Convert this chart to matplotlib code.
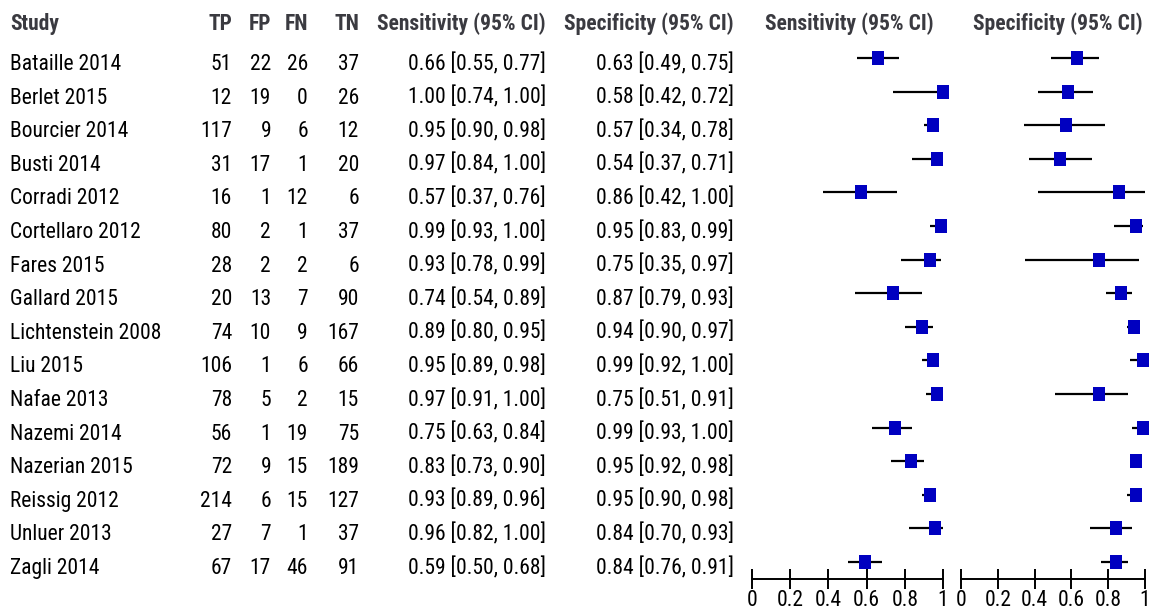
import matplotlib
matplotlib.use('Agg')
import matplotlib.pyplot as plt
import matplotlib.transforms as mtransforms
from matplotlib import font_manager as fm
from matplotlib.path import Path
import numpy as np

# Data
studies = ['Bataille 2014', 'Berlet 2015', 'Bourcier 2014', 'Busti 2014', 'Corradi 2012',
           'Cortellaro 2012', 'Fares 2015', 'Gallard 2015', 'Lichtenstein 2008', 'Liu 2015',
           'Nafae 2013', 'Nazemi 2014', 'Nazerian 2015', 'Reissig 2012', 'Unluer 2013', 'Zagli 2014']
tp = [51, 12, 117, 31, 16, 80, 28, 20, 74, 106, 78, 56, 72, 214, 27, 67]
fp = [22, 19, 9, 17, 1, 2, 2, 13, 10, 1, 5, 1, 9, 6, 7, 17]
fn = [26, 0, 6, 1, 12, 1, 2, 7, 9, 6, 2, 19, 15, 15, 1, 46]
tn = [37, 26, 12, 20, 6, 37, 6, 90, 167, 66, 15, 75, 189, 127, 37, 91]

sens = [0.66, 1.00, 0.95, 0.97, 0.57, 0.99, 0.93, 0.74, 0.89, 0.95, 0.97, 0.75, 0.83, 0.93, 0.96, 0.59]
sens_lo = [0.55, 0.74, 0.90, 0.84, 0.37, 0.93, 0.78, 0.54, 0.80, 0.89, 0.91, 0.63, 0.73, 0.89, 0.82, 0.50]
sens_hi = [0.77, 1.00, 0.98, 1.00, 0.76, 1.00, 0.99, 0.89, 0.95, 0.98, 1.00, 0.84, 0.90, 0.96, 1.00, 0.68]

spec = [0.63, 0.58, 0.57, 0.54, 0.86, 0.95, 0.75, 0.87, 0.94, 0.99, 0.75, 0.99, 0.95, 0.95, 0.84, 0.84]
spec_lo = [0.49, 0.42, 0.34, 0.37, 0.42, 0.83, 0.35, 0.79, 0.90, 0.92, 0.51, 0.93, 0.92, 0.90, 0.70, 0.76]
spec_hi = [0.75, 0.72, 0.78, 0.71, 1.00, 0.99, 0.97, 0.93, 0.97, 1.00, 0.91, 1.00, 0.98, 0.98, 0.93, 0.91]

ticks = [0, 0.2, 0.4, 0.6, 0.8, 1]
tick_labels = ['0', '0.2', '0.4', '0.6', '0.8', '1']

# look for a narrow font, the original uses Arial Narrow
names = {f.name for f in fm.fontManager.ttflist}
narrow = None
for cand in ['Liberation Sans Narrow', 'Arial Narrow', 'Roboto Condensed', 'Open Sans Condensed',
             'Noto Sans Condensed', 'DejaVu Sans Condensed']:
    if cand in names:
        narrow = cand
        break

if narrow is not None:
    fp_body = fm.FontProperties(family=narrow, size=15.5)
    fp_bold = fm.FontProperties(family=narrow, size=15.5, weight='bold')
else:
    fp_body = fp_bold = None
    for fam in ['Noto Sans', 'Open Sans', 'Roboto']:
        p = fm.findfont(fm.FontProperties(family=fam, stretch='condensed'), fallback_to_default=False)
        pb = fm.findfont(fm.FontProperties(family=fam, stretch='condensed', weight='bold'),
                         fallback_to_default=False)
        if 'ondensed' in p and 'ondensed' in pb:
            fp_body = fm.FontProperties(fname=p, size=14.5)
            fp_bold = fm.FontProperties(fname=pb, size=14.5)
            break
    if fp_body is None:
        fp_body = fm.FontProperties(family='Liberation Sans', size=14)
        fp_bold = fm.FontProperties(family='Liberation Sans', size=13, weight='bold')

W, H = 1157, 611
fig = plt.figure(figsize=(W / 100, H / 100), dpi=100)

def px(x):
    return x / W

# row i sits at pixel 58 + 33.6*i from top; axis line at 579, axes top at 40
row0, step = 58, 33.6
ybot = (579 - row0) / step
ytop = (40 - row0) / step
ax_b = (H - 579) / H
ax_h = (579 - 40) / H
text_off = 12 / step          # baseline of row text below the marker
yh = (30 - row0) / step       # header baseline

ax_sens = fig.add_axes([px(752), ax_b, px(943 - 752), ax_h])
ax_spec = fig.add_axes([px(961), ax_b, px(1145 - 961), ax_h])

# slightly tall square like the RevMan marker
box = Path([(-0.4, -0.5), (0.4, -0.5), (0.4, 0.5), (-0.4, 0.5), (-0.4, -0.5)],
           [Path.MOVETO, Path.LINETO, Path.LINETO, Path.LINETO, Path.CLOSEPOLY])

hdr_color = '#3a3a40'
n = len(studies)
rows = np.arange(n)

for ax, est, lo, hi, title, hx in [(ax_sens, sens, sens_lo, sens_hi, 'Sensitivity (95% CI)', 0.51),
                                   (ax_spec, spec, spec_lo, spec_hi, 'Specificity (95% CI)', 0.524)]:
    ax.hlines(rows, lo, hi, color='black', lw=1.6, clip_on=False)
    ax.plot(est, rows, marker=box, ls='none', color='#0000C0', ms=10.5, mew=0, clip_on=False)
    ax.set_xlim(0, 1)
    ax.set_ylim(ybot, ytop)
    for s in ['left', 'right', 'top']:
        ax.spines[s].set_visible(False)
    ax.spines['bottom'].set_linewidth(1.4)
    ax.spines['bottom'].set_bounds(0, 1)
    ax.set_yticks([])
    ax.set_xticks(ticks)
    ax.set_xticklabels(tick_labels, fontproperties=fp_body)
    ax.tick_params(axis='x', direction='inout', length=14, width=1.4, pad=1)
    ax.set_facecolor('none')
    ax.text(hx, yh, title, ha='center', va='baseline', fontproperties=fp_bold,
            color=hdr_color, transform=ax.transData)

trans = mtransforms.blended_transform_factory(fig.transFigure, ax_sens.transData)

fig.text(px(10), yh, 'Study', transform=trans, ha='left', va='baseline',
         fontproperties=fp_bold, color=hdr_color)
cols = [('TP', tp, 232), ('FP', fp, 271), ('FN', fn, 308), ('TN', tn, 359)]
for name, vals, xr in cols:
    fig.text(px(xr), yh, name, transform=trans, ha='right', va='baseline',
             fontproperties=fp_bold, color=hdr_color)
    for i, v in enumerate(vals):
        fig.text(px(xr), i + text_off, str(v), transform=trans, ha='right', va='baseline',
                 fontproperties=fp_body)

fig.text(px(546), yh, 'Sensitivity (95% CI)', transform=trans, ha='right', va='baseline',
         fontproperties=fp_bold, color=hdr_color)
fig.text(px(734), yh, 'Specificity (95% CI)', transform=trans, ha='right', va='baseline',
         fontproperties=fp_bold, color=hdr_color)

for i in range(n):
    y = i + text_off
    fig.text(px(10), y, studies[i], transform=trans, ha='left', va='baseline', fontproperties=fp_body)
    fig.text(px(546), y, f'{sens[i]:.2f} [{sens_lo[i]:.2f}, {sens_hi[i]:.2f}]',
             transform=trans, ha='right', va='baseline', fontproperties=fp_body)
    fig.text(px(734), y, f'{spec[i]:.2f} [{spec_lo[i]:.2f}, {spec_hi[i]:.2f}]',
             transform=trans, ha='right', va='baseline', fontproperties=fp_body)

fig.savefig('out.png', dpi=100)
